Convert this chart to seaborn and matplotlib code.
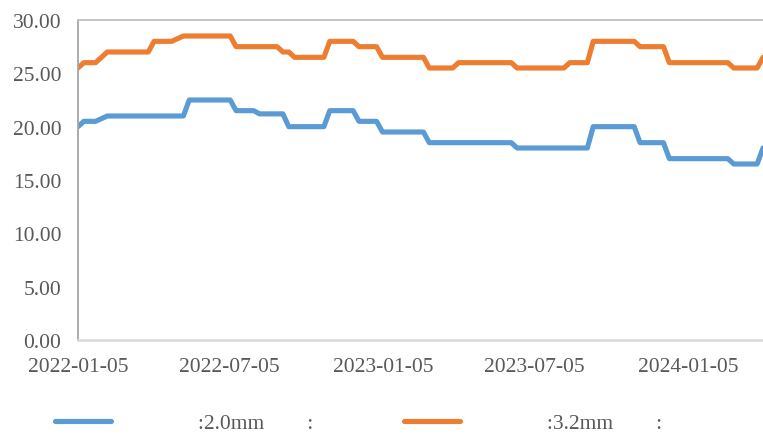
import seaborn as sns
import pandas as pd
import matplotlib.pyplot as plt
import matplotlib.dates as mdates


# weekly prices (first week 2022-01-05)
start_date = "2022-01-05"
tick_dates = ["2022-01-05", "2022-07-05", "2023-01-05", "2023-07-05", "2024-01-05"]
y_ticks = [0, 5, 10, 15, 20, 25, 30]

label_20 = "             :2.0mm        :"
label_32 = "             :3.2mm        :"

price_20 = [20.0, 20.5, 20.5, 20.5, 20.75, 21.0, 21.0, 21.0, 21.0, 21.0,
            21.0, 21.0, 21.0, 21.0, 21.0, 21.0, 21.0, 21.0, 21.0, 22.5,
            22.5, 22.5, 22.5, 22.5, 22.5, 22.5, 22.5, 21.5, 21.5, 21.5,
            21.5, 21.2, 21.2, 21.2, 21.2, 21.2, 20.0, 20.0, 20.0, 20.0,
            20.0, 20.0, 20.0, 21.5, 21.5, 21.5, 21.5, 21.5, 20.5, 20.5,
            20.5, 20.5, 19.5, 19.5, 19.5, 19.5, 19.5, 19.5, 19.5, 19.5,
            18.5, 18.5, 18.5, 18.5, 18.5, 18.5, 18.5, 18.5, 18.5, 18.5,
            18.5, 18.5, 18.5, 18.5, 18.5, 18.0, 18.0, 18.0, 18.0, 18.0,
            18.0, 18.0, 18.0, 18.0, 18.0, 18.0, 18.0, 18.0, 20.0, 20.0,
            20.0, 20.0, 20.0, 20.0, 20.0, 20.0, 18.5, 18.5, 18.5, 18.5,
            18.5, 17.0, 17.0, 17.0, 17.0, 17.0, 17.0, 17.0, 17.0, 17.0,
            17.0, 17.0, 16.5, 16.5, 16.5, 16.5, 16.5, 18.0]

price_32 = [25.5, 26.0, 26.0, 26.0, 26.5, 27.0, 27.0, 27.0, 27.0, 27.0,
            27.0, 27.0, 27.0, 28.0, 28.0, 28.0, 28.0, 28.25, 28.5, 28.5,
            28.5, 28.5, 28.5, 28.5, 28.5, 28.5, 28.5, 27.5, 27.5, 27.5,
            27.5, 27.5, 27.5, 27.5, 27.5, 27.0, 27.0, 26.5, 26.5, 26.5,
            26.5, 26.5, 26.5, 28.0, 28.0, 28.0, 28.0, 28.0, 27.5, 27.5,
            27.5, 27.5, 26.5, 26.5, 26.5, 26.5, 26.5, 26.5, 26.5, 26.5,
            25.5, 25.5, 25.5, 25.5, 25.5, 26.0, 26.0, 26.0, 26.0, 26.0,
            26.0, 26.0, 26.0, 26.0, 26.0, 25.5, 25.5, 25.5, 25.5, 25.5,
            25.5, 25.5, 25.5, 25.5, 26.0, 26.0, 26.0, 26.0, 28.0, 28.0,
            28.0, 28.0, 28.0, 28.0, 28.0, 28.0, 27.5, 27.5, 27.5, 27.5,
            27.5, 26.0, 26.0, 26.0, 26.0, 26.0, 26.0, 26.0, 26.0, 26.0,
            26.0, 26.0, 25.5, 25.5, 25.5, 25.5, 25.5, 26.5]


dates = pd.date_range(start_date, periods=len(price_20), freq="7D")
df = pd.DataFrame({
    "date": list(dates) * 2,
    "price": price_20 + price_32,
    "series": [label_20] * len(price_20) + [label_32] * len(price_32),
})

sns.set_style("white")
plt.rcParams["font.family"] = ["Liberation Serif", "DejaVu Serif"]

fig = plt.figure(figsize=(7.63, 4.35), dpi=100)
ax = fig.add_axes([78 / 763, 1 - 341 / 435, 1 - 78 / 763, 320 / 435])

sns.lineplot(data=df, x="date", y="price", hue="series",
             palette=["#5B9BD5", "#ED7D31"], linewidth=3.7, ax=ax,
             legend=False, solid_capstyle="round", solid_joinstyle="round")

ax.set_xlim(dates[0], dates[-1])
ax.set_ylim(0, 30)
ax.set_yticks(y_ticks)
ax.yaxis.set_major_formatter(plt.FuncFormatter(lambda v, p: f"{v:.2f}"))
ax.set_xticks(pd.to_datetime(tick_dates))
ax.xaxis.set_major_formatter(mdates.DateFormatter("%Y-%m-%d"))
ax.set_xlabel("")
ax.set_ylabel("")

ax.tick_params(axis="x", length=4, width=1, color="#d9d9d9", pad=8,
               labelsize=15.5, labelcolor="#595959")
ax.tick_params(axis="y", length=0, pad=12, labelsize=15.5, labelcolor="#595959")

ax.spines["left"].set_color("#a6a6a6")
ax.spines["left"].set_linewidth(1.3)
ax.spines["top"].set_color("#bfbfbf")
ax.spines["top"].set_linewidth(1.3)
ax.spines["bottom"].set_color("#d9d9d9")
ax.spines["bottom"].set_linewidth(1.8)
ax.spines["right"].set_visible(False)

handles = [plt.Line2D([], [], color="#5B9BD5", linewidth=3.7, solid_capstyle="round"),
           plt.Line2D([], [], color="#ED7D31", linewidth=3.7, solid_capstyle="round")]
fig.legend(handles, [label_20, label_32], loc="center left",
           bbox_to_anchor=(55 / 763, 1 - 424 / 435), ncol=2, frameon=False,
           borderpad=0, borderaxespad=0, handlelength=2.6, handletextpad=0.8,
           columnspacing=4.2, prop={"size": 15.5}, labelcolor="#595959")

fig.savefig("out.png", dpi=100)
